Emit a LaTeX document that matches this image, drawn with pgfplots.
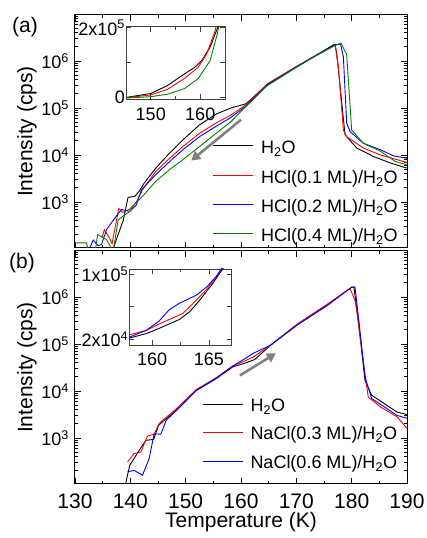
\documentclass[border=0pt]{standalone}
\usepackage{fontspec}
\setmainfont{Liberation Sans}
\usepackage{pgfplots}
\pgfplotsset{compat=1.18}
\usetikzlibrary{arrows.meta}
\definecolor{cgreen}{RGB}{0,128,0}
\definecolor{cred}{RGB}{255,0,0}
\definecolor{cblue}{RGB}{0,0,255}
\definecolor{cblack}{RGB}{0,0,0}
\definecolor{carrow}{RGB}{128,128,128}
\newcommand{\bigfont}{\fontsize{21bp}{24bp}\selectfont}

\pgfplotsset{
  scale only axis,
  tick align=inside,
  /pgf/number format/assume math mode=true,
  every axis plot/.append style={line width=0.9bp},
}

\begin{document}
\fontsize{18bp}{21bp}\selectfont
\begin{tikzpicture}
% panel (a)
\begin{axis}[at={(0bp,236bp)}, anchor=south west,
  width=332bp, height=233bp,
  xmin=130, xmax=190, xtick={130,140,...,190}, minor x tick num=1, xticklabel=\empty,
  ymode=log, log basis y=10, ymin=105, ymax=9.5e6,
  yticklabel={10\textsuperscript{\pgfmathparse{int(round(\tick))}\pgfmathresult}},
  major tick length=6bp, minor tick length=3.5bp,
  every tick/.append style={black, line width=0.8bp},
  axis line style={line width=1bp},
  ylabel={Intensity (cps)},
  ylabel style={font=\bigfont, at={(axis description cs:-0.145,0.5)}, anchor=center}]
\addplot[color=cblack] coordinates {(136.6,80) (137.8,204) (138.7,398) (139.6,1259) (140.8,1318) (141.6,1698) (142.5,2512) (144.6,5248) (147.1,1.10e4) (149.5,2.09e4) (152.5,4.37e4) (155.5,7.41e4) (158.2,1.00e5) (160.9,1.23e5) (164.7,3.09e5) (170.1,7.59e5) (173.7,1.35e6) (176.7,2.19e6) (177.0,2.24e6) (177.3,1.45e6) (178.8,2.69e4) (180.9,1.41e4) (183.9,9330) (187.0,6760) (190.0,5250)};
\addplot[color=cred] coordinates {(134.9,178) (135.3,257) (136.2,174) (136.7,129) (137.9,724) (138.6,603) (139.8,692) (141.0,955) (142.2,1820) (144.6,4467) (147.1,8511) (149.5,1.51e4) (152.5,2.88e4) (155.5,4.79e4) (158.2,7.08e4) (160.9,1.17e5) (164.7,3.24e5) (170.1,7.76e5) (173.7,1.32e6) (177.0,2.19e6) (177.6,7.59e5) (178.5,3.39e4) (179.1,2.45e4) (182.1,1.41e4) (185.2,1.00e4) (187.9,8130) (190.0,6920)};
\addplot[color=cblue] coordinates {(132.2,80) (133.3,155) (134.2,117) (134.8,126) (135.7,257) (137.2,457) (138.4,692) (139.2,661) (139.9,631) (141.1,871) (142.0,1820) (144.6,3802) (147.1,7244) (149.5,1.29e4) (152.5,2.45e4) (155.5,4.07e4) (158.2,6.31e4) (160.9,1.10e5) (164.7,3.09e5) (170.1,7.59e5) (173.7,1.35e6) (177.0,2.19e6) (178.0,2.29e6) (178.5,1.23e6) (179.1,4.79e4) (179.7,3.16e4) (182.1,1.78e4) (185.2,1.29e4) (187.6,9550) (190.0,8510)};
\addplot[color=cgreen] coordinates {(130.0,135) (132.1,135) (132.5,80) (133.6,80) (134.1,204) (135.7,158) (136.9,89) (137.8,417) (139.0,537) (139.9,631) (140.7,871) (142.2,1318) (144.6,2754) (147.1,4898) (149.5,7943) (152.5,1.51e4) (155.5,2.88e4) (158.2,5.13e4) (160.9,1.07e5) (164.7,2.95e5) (170.1,7.41e5) (173.7,1.32e6) (177.0,2.14e6) (178.1,2.40e6) (179.1,1.35e6) (180.0,3.39e4) (182.1,1.78e4) (185.2,1.20e4) (187.9,7240) (190.0,6170)};
\draw[carrow, line width=2.6bp, -{Triangle[length=9bp,width=10bp]}] (axis cs:160.0,5.62e4) -- (axis cs:151.0,7590);
\end{axis}
% panel (b)
\begin{axis}[at={(0bp,0bp)}, anchor=south west,
  width=332bp, height=233bp,
  xmin=130, xmax=190, xtick={130,140,...,190}, minor x tick num=1,
  xticklabel style={font=\bigfont, inner sep=0pt, yshift=-10bp},
  ymode=log, log basis y=10, ymin=105, ymax=9.5e6,
  yticklabel={10\textsuperscript{\pgfmathparse{int(round(\tick))}\pgfmathresult}},
  major tick length=6bp, minor tick length=3.5bp,
  every tick/.append style={black, line width=0.8bp},
  axis line style={line width=1bp},
  ylabel={Intensity (cps)},
  ylabel style={font=\bigfont, at={(axis description cs:-0.145,0.5)}, anchor=center},
  xlabel={Temperature (K)},
  xlabel style={font=\bigfont, inner sep=0pt, at={(axis description cs:0.5,-0.1888)}, anchor=base}]
\addplot[color=cblack] coordinates {(138.9,80) (139.9,263) (141.3,479) (142.8,891) (144.2,933) (145.1,1862) (148.3,3890) (151.9,1.02e4) (155.5,1.82e4) (158.5,3.24e4) (160.9,3.98e4) (162.5,4.68e4) (165.3,9.33e4) (170.1,2.51e5) (175.5,6.61e5) (180.0,1.62e6) (180.4,1.62e6) (181.2,3.16e5) (182.4,1.70e4) (183.6,8130) (186.3,5010) (188.2,3550) (190.0,3160)};
\addplot[color=cred] coordinates {(139.5,309) (140.7,468) (141.9,501) (143.1,1096) (144.3,1202) (145.2,2042) (148.3,4169) (151.9,1.07e4) (155.5,1.91e4) (158.5,3.39e4) (160.9,4.47e4) (162.2,5.25e4) (165.3,9.33e4) (170.1,2.63e5) (175.5,6.92e5) (179.7,1.51e6) (180.6,8.51e5) (180.9,5.25e5) (182.4,2.34e4) (183.0,7410) (185.2,4571) (188.2,2818) (190.0,1600)};
\addplot[color=cblue] coordinates {(139.5,191) (140.7,204) (142.2,162) (143.4,363) (144.3,1230) (145.5,1202) (146.5,2399) (148.3,3802) (151.9,1.02e4) (155.5,1.86e4) (158.5,3.39e4) (160.9,5.01e4) (162.2,6.31e4) (165.3,9.33e4) (170.1,2.51e5) (175.5,6.46e5) (180.0,1.62e6) (180.6,1.62e6) (181.3,3.16e5) (182.4,2.00e4) (183.6,6920) (186.3,4266) (188.2,3020) (190.0,2630)};
\draw[carrow, line width=2.6bp, -{Triangle[length=9bp,width=10bp]}] (axis cs:159.8,2.14e4) -- (axis cs:166.3,6.31e4);
\end{axis}
% inset (a)
\begin{axis}[at={(51bp,384.7bp)}, anchor=south west, width=99bp, height=72.6bp,
  axis background/.style={fill=white},
  major tick length=5bp, minor tick length=3bp,
  axis line style={black!75, line width=0.9bp},
  every tick/.append style={black!75, line width=0.7bp},
  scaled y ticks=false, minor x tick num=1,
  yticklabel style={inner sep=1bp},
  xticklabel style={yshift=-2bp},
  xmin=145, xmax=165, xtick={150,160},
  ymin=-4500, ymax=2.03e5, ytick={0,1e5,2e5}, yticklabels={0,{},2x10\textsuperscript{5}}]
\addplot[color=cblack] coordinates {(145,800) (150,1.2e4) (153.4,3.5e4) (156.8,6.8e4) (158.9,8.7e4) (160.3,1.06e5) (162,1.45e5) (163.4,1.96e5) (164,2.3e5)};
\addplot[color=cred] coordinates {(145,0) (150,8000) (153.4,2.4e4) (156.8,5.5e4) (159.6,8.7e4) (161.3,1.25e5) (163,1.91e5) (163.6,2.3e5)};
\addplot[color=cgreen] coordinates {(145,-1000) (150,3000) (153.4,1.0e4) (156.8,2.6e4) (159.6,5.5e4) (162,1.06e5) (163.4,1.8e5) (164,2.2e5)};
\end{axis}
% inset (b)
\begin{axis}[at={(54.3bp,139bp)}, anchor=south west, width=102.4bp, height=76bp,
  axis background/.style={fill=white},
  major tick length=5bp, minor tick length=3bp,
  axis line style={black!75, line width=0.9bp},
  every tick/.append style={black!75, line width=0.7bp},
  scaled y ticks=false, minor x tick num=1,
  yticklabel style={inner sep=1bp},
  xticklabel style={yshift=-2bp},
  xmin=158, xmax=167, xtick={160,165},
  ymin=1.3e4, ymax=1.06e5, ytick={2e4,6e4,1e5}, yticklabels={2x10\textsuperscript{4},{},1x10\textsuperscript{5}}]
\addplot[color=cblack] coordinates {(157.9,2.1e4) (159.5,2.7e4) (160.6,3.32e4) (162.4,4.42e4) (163.3,5.36e4) (164.2,6.8e4) (165.35,8.85e4) (166.2,1.06e5) (166.5,1.12e5)};
\addplot[color=cred] coordinates {(157.9,2.5e4) (159.5,3.1e4) (160.6,3.85e4) (162.7,5.16e4) (163.9,6.8e4) (164.8,8.1e4) (165.65,9.67e4) (166.1,1.06e5) (166.4,1.12e5)};
\addplot[color=cblue] coordinates {(157.9,2.2e4) (159.5,3.1e4) (160.6,4.2e4) (161.5,5.6e4) (162.4,6.4e4) (163.9,7.4e4) (164.8,8.4e4) (165.65,9.7e4) (166.1,1.06e5) (166.4,1.12e5)};
\end{axis}
% legends
\begin{scope}[every node/.style={anchor=base west, inner sep=0pt}, line width=1bp]
\draw[cblack] (138bp,338.5bp) -- ++(40bp,0); \node at (185.7bp,330.7bp) {H\textsubscript{2}O};
\draw[cred]   (138bp,308.5bp) -- ++(40bp,0); \node at (185.7bp,300.7bp) {HCl(0.1 ML)/H\textsubscript{2}O};
\draw[cblue]  (138bp,279.5bp) -- ++(40bp,0); \node at (185.7bp,271.3bp) {HCl(0.2 ML)/H\textsubscript{2}O};
\draw[cgreen] (138bp,250.5bp) -- ++(40bp,0); \node at (185.7bp,242.3bp) {HCl(0.4 ML)/H\textsubscript{2}O};
\draw[cblack] (128bp,79.5bp) -- ++(40bp,0); \node at (175bp,72.3bp) {H\textsubscript{2}O};
\draw[cred]   (128bp,51.5bp) -- ++(40bp,0); \node at (175bp,44bp) {NaCl(0.3 ML)/H\textsubscript{2}O};
\draw[cblue]  (128bp,22.5bp) -- ++(40bp,0); \node at (175bp,15.7bp) {NaCl(0.6 ML)/H\textsubscript{2}O};
\end{scope}
\node[font=\bigfont] at (-50bp,457bp) {(a)};
\node[font=\bigfont] at (-53bp,221bp) {(b)};
\pgfresetboundingbox
\useasboundingbox (-75bp,-54bp) rectangle (352bp,484bp);
\end{tikzpicture}
\end{document}
